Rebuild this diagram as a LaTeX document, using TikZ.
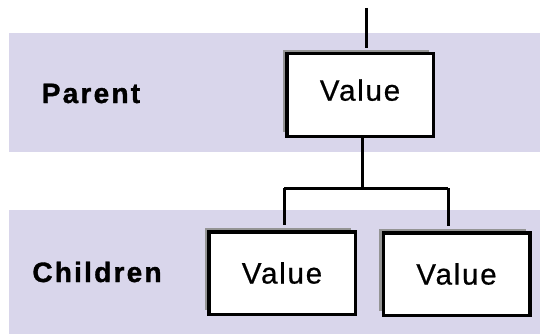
\documentclass[tikz,border=0pt]{standalone}
\usepackage{fontspec}
\setmainfont{Liberation Sans}
\newfontfamily\valuefont[LetterSpace=6,FakeBold=0.6]{Liberation Sans}
\newfontfamily\levelfont[LetterSpace=8,FakeBold=1.2]{Liberation Sans Bold}
\usetikzlibrary{shadows}
\definecolor{band}{RGB}{217,214,235}

\begin{document}
\begin{tikzpicture}[x=1pt,y=-1pt,
  box/.style={draw,line width=3.5pt,fill=white,minimum width=146.5pt,minimum height=82.5pt,
    inner sep=0pt,font=\valuefont\fontsize{29.5}{30}\selectfont,
    drop shadow={shadow xshift=-4pt,shadow yshift=4pt,fill=black!42,opacity=1}},
  level/.style={anchor=base,inner sep=0pt,font=\levelfont\fontsize{28}{30}\selectfont},
  wire/.style={line width=3pt}]
\useasboundingbox (0,0) rectangle (540,334);

\fill[band] (9,33) rectangle (540,152);
\fill[band] (9,210) rectangle (540,334);

\draw (91,103) node[level](LP) {Parent};
\draw (97,282) node[level](LC) {Children};

\draw (360,95) node[box,text depth=10pt](PA) {Value};
\draw (282,273) node[box](CL) {Value};
\draw (456.5,274) node[box](CR) {Value};

\coordinate (TOP) at (366,8);
\coordinate (FK) at (362,188);
\coordinate (FL) at (284,188);
\coordinate (FR) at (448,188);

\draw[wire,shorten >=4pt] (TOP) to (TOP |- PA.north);
\draw[wire] (FK |- PA.south) to (FK);
\draw[wire] (FL) to (FR);
\draw[wire,shorten >=5pt] (FL) to (FL |- CL.north);
\draw[wire,shorten >=5pt] (FR) to (FR |- CR.north);

\end{tikzpicture}
\end{document}
